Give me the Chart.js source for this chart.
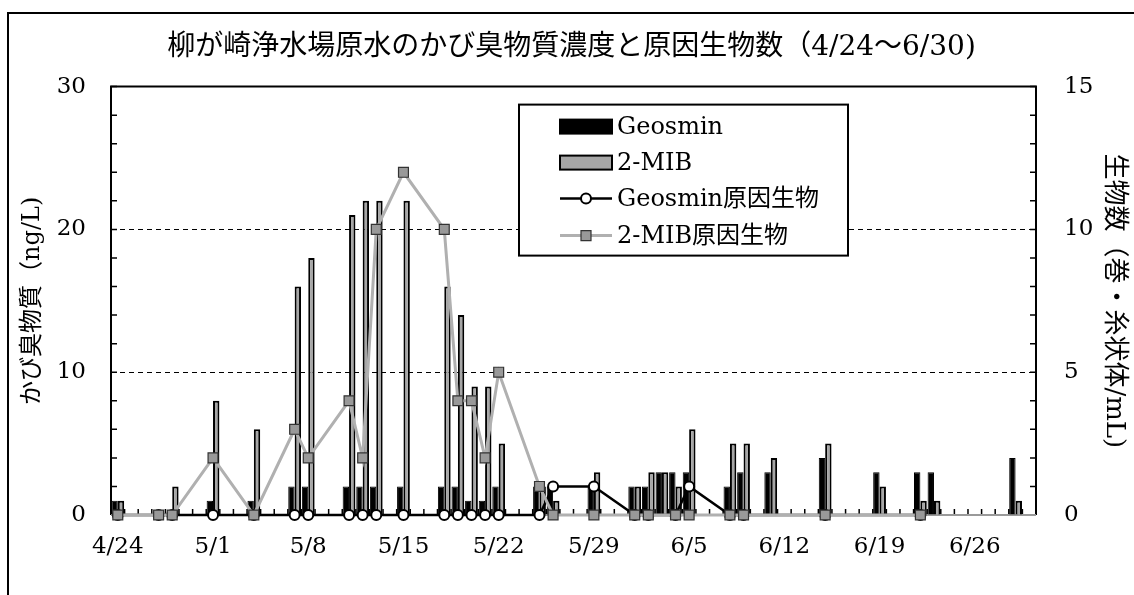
<!DOCTYPE html>
<html>
<head>
<meta charset="utf-8">
<script src="https://cdn.jsdelivr.net/npm/chart.js@4.4.1/dist/chart.umd.min.js"></script>
<style>
  html, body { margin: 0; padding: 0; background: #fff; }
  #wrap { position: relative; width: 1134px; height: 595px; overflow: hidden; }
  #frame { position: absolute; left: 7px; top: 12px; width: 1140px; height: 600px; border-left: 2px solid #000; border-top: 2px solid #000; }
  canvas { position: absolute; left: 0; top: 0; }
</style>
</head>
<body>
<div id="wrap"><div id="frame"></div><canvas id="chart" width="1134" height="595"></canvas></div>
<script>
// daily categories 4/24 - 6/30
const dates = [
  '4/24','4/25','4/26','4/27','4/28','4/29','4/30',
  '5/1','5/2','5/3','5/4','5/5','5/6','5/7',
  '5/8','5/9','5/10','5/11','5/12','5/13','5/14',
  '5/15','5/16','5/17','5/18','5/19','5/20','5/21',
  '5/22','5/23','5/24','5/25','5/26','5/27','5/28',
  '5/29','5/30','5/31','6/1','6/2','6/3','6/4',
  '6/5','6/6','6/7','6/8','6/9','6/10','6/11',
  '6/12','6/13','6/14','6/15','6/16','6/17','6/18',
  '6/19','6/20','6/21','6/22','6/23','6/24','6/25',
  '6/26','6/27','6/28','6/29','6/30'
];

// ng/L
const geosmin = [
  1, null, null, null, 0, null, null,
  1, null, null, 1, null, null, 2,
  2, null, null, 2, 2, 2, null,
  2, null, null, 2, 2, 1, 1,
  2, null, null, 2, 2, null, null,
  2, null, null, 2, 2, 3, 3,
  3, null, null, 2, 3, null, 3,
  null, null, null, 4, null, null, null,
  3, null, null, 3, 3, null, null,
  null, null, null, 4, null
];
const mib = [
  1, null, null, null, 2, null, null,
  8, null, null, 6, null, null, 16,
  18, null, null, 21, 22, 22, null,
  22, null, null, 16, 14, 9, 9,
  5, null, null, 2, 1, null, null,
  3, null, null, 2, 3, 3, 2,
  6, null, null, 5, 5, null, 4,
  null, null, null, 5, null, null, null,
  2, null, null, 1, 1, null, null,
  null, null, null, 1, null
];

// organisms (巻・糸状体/mL)
const geosminOrg = [
  0, null, null, 0, 0, null, null,
  0, null, null, 0, null, null, 0,
  0, null, null, 0, 0, 0, null,
  0, null, null, 0, 0, 0, 0,
  0, null, null, 0, 1, null, null,
  1, null, null, 0, 0, null, 0,
  1, null, null, 0, 0, null, null,
  null, null, null, 0, null, null, null,
  null, null, null, 0, null, null, null,
  null, null, null, null, null
];
const mibOrg = [
  0, null, null, 0, 0, null, null,
  2, null, null, 0, null, null, 3,
  2, null, null, 4, 2, 10, null,
  12, null, null, 10, 4, 4, 2,
  5, null, null, 1, 0, null, null,
  0, null, null, 0, 0, null, 0,
  0, null, null, 0, 0, null, null,
  null, null, null, 0, null, null, null,
  null, null, null, 0, null, null, null,
  null, null, null, null, null
];

const FONT = '"DejaVu Serif", "Noto Sans CJK JP", serif';
Chart.defaults.color = '#000';
Chart.defaults.font.family = FONT;

const frameAndTicks = {
  id: 'frameAndTicks',
  beforeDatasetsDraw(chart) {
    const { ctx, chartArea: a, scales } = chart;
    ctx.save();
    ctx.strokeStyle = '#000';
    ctx.lineWidth = 1.5;
    ctx.beginPath();
    for (let v = 0; v <= 30; v += 2) {
      const y = scales.y.getPixelForValue(v);
      ctx.moveTo(a.left, y); ctx.lineTo(a.left + 6, y);
    }
    for (let v = 0; v <= 15; v += 1) {
      const y = scales.y1.getPixelForValue(v);
      ctx.moveTo(a.right - 6, y); ctx.lineTo(a.right, y);
    }
    for (let i = 1; i < dates.length; i++) {
      const x = (scales.x.getPixelForValue(i - 1) + scales.x.getPixelForValue(i)) / 2;
      ctx.moveTo(x, a.bottom); ctx.lineTo(x, a.bottom - 6);
    }
    ctx.stroke();
    ctx.lineWidth = 2;
    ctx.beginPath();
    ctx.moveTo(a.left, a.bottom); ctx.lineTo(a.left, a.top);
    ctx.lineTo(a.right, a.top); ctx.lineTo(a.right, a.bottom);
    ctx.stroke();
    ctx.strokeStyle = '#9a9a9a';
    ctx.beginPath();
    ctx.moveTo(a.left, a.bottom); ctx.lineTo(a.right, a.bottom);
    ctx.stroke();
    ctx.restore();
  }
};

const boxLegend = {
  id: 'boxLegend',
  afterDraw(chart) {
    const { ctx, chartArea: a } = chart;
    const ds = chart.data.datasets;
    const x0 = a.left + 408, y0 = a.top + 18, w = 329, h = 151;
    const sx = x0 + 41, sw = 52, tx = x0 + 98;
    const rows = [22, 58, 94, 131].map(r => y0 + r);
    ctx.save();
    ctx.fillStyle = '#fff';
    ctx.fillRect(x0, y0, w, h);
    ctx.strokeStyle = '#000';
    ctx.lineWidth = 2;
    ctx.strokeRect(x0, y0, w, h);

    // bars
    [ds[0], ds[1]].forEach((d, i) => {
      ctx.fillStyle = d.backgroundColor;
      ctx.fillRect(sx, rows[i] - 7, sw, 14);
      ctx.strokeStyle = d.borderColor;
      ctx.lineWidth = 2;
      ctx.strokeRect(sx, rows[i] - 7, sw, 14);
    });
    // lines
    [ds[2], ds[3]].forEach((d, i) => {
      const y = rows[i + 2];
      ctx.strokeStyle = d.borderColor;
      ctx.lineWidth = d.borderWidth;
      ctx.beginPath(); ctx.moveTo(sx, y); ctx.lineTo(sx + sw, y); ctx.stroke();
      ctx.fillStyle = d.pointBackgroundColor;
      ctx.strokeStyle = d.pointBorderColor;
      ctx.lineWidth = d.pointBorderWidth;
      const cx = sx + sw / 2;
      ctx.beginPath();
      if (d.pointStyle === 'rect') {
        ctx.rect(cx - 5, y - 5, 10, 10);
      } else {
        ctx.arc(cx, y, 5, 0, Math.PI * 2);
      }
      ctx.fill(); ctx.stroke();
    });

    ctx.fillStyle = '#000';
    ctx.font = '24px ' + FONT;
    ctx.textBaseline = 'middle';
    ds.forEach((d, i) => ctx.fillText(d.label, tx, rows[i] + 1));
    ctx.restore();
  }
};

new Chart(document.getElementById('chart'), {
  type: 'bar',
  data: {
    labels: dates,
    datasets: [
      {
        label: 'Geosmin', data: geosmin, yAxisID: 'y', order: 2,
        backgroundColor: '#000000', borderColor: '#000000', borderWidth: 1,
        categoryPercentage: 0.94, barPercentage: 1.0
      },
      {
        label: '2-MIB', data: mib, yAxisID: 'y', order: 3,
        backgroundColor: '#a6a6a6', borderColor: '#000000', borderWidth: 2,
        categoryPercentage: 0.94, barPercentage: 1.0
      },
      {
        type: 'line', label: 'Geosmin原因生物', data: geosminOrg, yAxisID: 'y1', order: 1,
        borderColor: '#000000', borderWidth: 2.5, spanGaps: true, tension: 0, clip: false,
        pointStyle: 'circle', pointRadius: 5, pointBackgroundColor: '#ffffff',
        pointBorderColor: '#000000', pointBorderWidth: 2
      },
      {
        type: 'line', label: '2-MIB原因生物', data: mibOrg, yAxisID: 'y1', order: 0,
        borderColor: '#b0b0b0', borderWidth: 3, spanGaps: true, tension: 0, clip: false,
        pointStyle: 'rect', pointRadius: 7, pointBackgroundColor: '#999999',
        pointBorderColor: '#333333', pointBorderWidth: 1.2
      }
    ]
  },
  options: {
    responsive: false,
    animation: false,
    layout: { padding: { left: 14, right: 5, top: 0, bottom: 0 } },
    plugins: {
      legend: { display: false },
      tooltip: { enabled: false },
      title: {
        display: true,
        text: '柳が崎浄水場原水のかび臭物質濃度と原因生物数（4/24～6/30)',
        font: { size: 28, weight: 'normal', family: FONT },
        color: '#000',
        padding: { top: 31, bottom: 22 }
      }
    },
    scales: {
      x: {
        grid: { display: false, drawTicks: false },
        border: { display: false },
        ticks: {
          autoSkip: false, maxRotation: 0, minRotation: 0, padding: 18,
          font: { size: 23 },
          callback: function (value, index) {
            return index % 7 === 0 ? this.getLabelForValue(value) : '';
          }
        },
        afterFit: s => { s.height = 80; }
      },
      y: {
        position: 'left', min: 0, max: 30,
        ticks: { stepSize: 10, padding: 25, font: { size: 23 } },
        grid: {
          drawTicks: false, lineWidth: 1,
          color: c => (c.tick.value === 10 || c.tick.value === 20) ? '#000' : 'rgba(0,0,0,0)'
        },
        border: { display: false, dash: [5, 4] },
        title: {
          display: true, text: 'かび臭物質（ng/L)',
          font: { size: 24 }, padding: { top: 4, bottom: 0 }
        },
        afterFit: s => { s.width = 97; }
      },
      y1: {
        position: 'right', min: 0, max: 15,
        ticks: { stepSize: 5, padding: 28, font: { size: 23 } },
        grid: { drawOnChartArea: false, drawTicks: false },
        border: { display: false },
        title: {
          display: true, text: '生物数（巻・糸状体/mL)',
          font: { size: 26 }, padding: { top: 0, bottom: 0 }
        },
        afterFit: s => { s.width = 93; }
      }
    }
  },
  plugins: [frameAndTicks, boxLegend]
});
</script>
</body>
</html>
